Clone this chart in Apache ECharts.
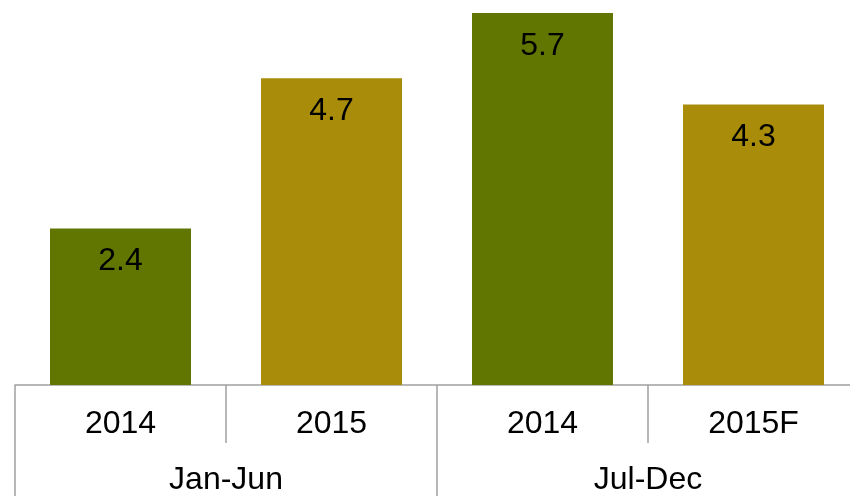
<!DOCTYPE html>
<html>
<head>
<meta charset="utf-8">
<script src="https://cdn.jsdelivr.net/npm/echarts@6/dist/echarts.min.js"></script>
<style>
  html, body { margin: 0; padding: 0; background: #fff; }
  #chart { width: 850px; height: 496px; }
</style>
</head>
<body>
<div id="chart"></div>
<script>
var years = ["2014", "2015", "2014", "2015F"];
var halves = ["Jan-Jun", "Jul-Dec"];
var values = [2.4, 4.7, 5.7, 4.3];
var barColors = ["#607600", "#a88c0a", "#607600", "#a88c0a"];

var myChart = echarts.init(document.getElementById("chart"));
var axisGray = "#a0a0a0";
var font = "Liberation Sans";

var option = {
  animation: false,
  grid: { left: 15, width: 844, top: 0, bottom: 111, outerBoundsMode: "none", containLabel: false },
  xAxis: [
    {
      type: "category",
      data: years,
      position: "bottom",
      axisLine: { show: true, lineStyle: { color: axisGray, width: 1.5 } },
      axisTick: { show: true, length: 58, lineStyle: { color: axisGray, width: 1.5 } },
      axisLabel: { color: "#000", fontSize: 32, fontFamily: font, margin: 23 }
    },
    {
      type: "category",
      data: halves,
      position: "bottom",
      axisLine: { show: false },
      axisTick: { show: true, length: 111, lineStyle: { color: axisGray, width: 1.5 } },
      axisLabel: { color: "#000", fontSize: 32, fontFamily: font, margin: 79 }
    }
  ],
  yAxis: {
    type: "value",
    min: 0,
    max: 5.9,
    show: false,
    splitLine: { show: false }
  },
  series: [
    {
      type: "bar",
      xAxisIndex: 0,
      barWidth: 141,
      data: values.map(function (v, i) {
        return { value: v, itemStyle: { color: barColors[i] } };
      }),
      label: {
        show: true,
        position: "insideTop",
        distance: 17,
        color: "#000",
        fontSize: 32,
        fontFamily: font
      }
    }
  ]
};
myChart.setOption(option);
</script>
</body>
</html>
